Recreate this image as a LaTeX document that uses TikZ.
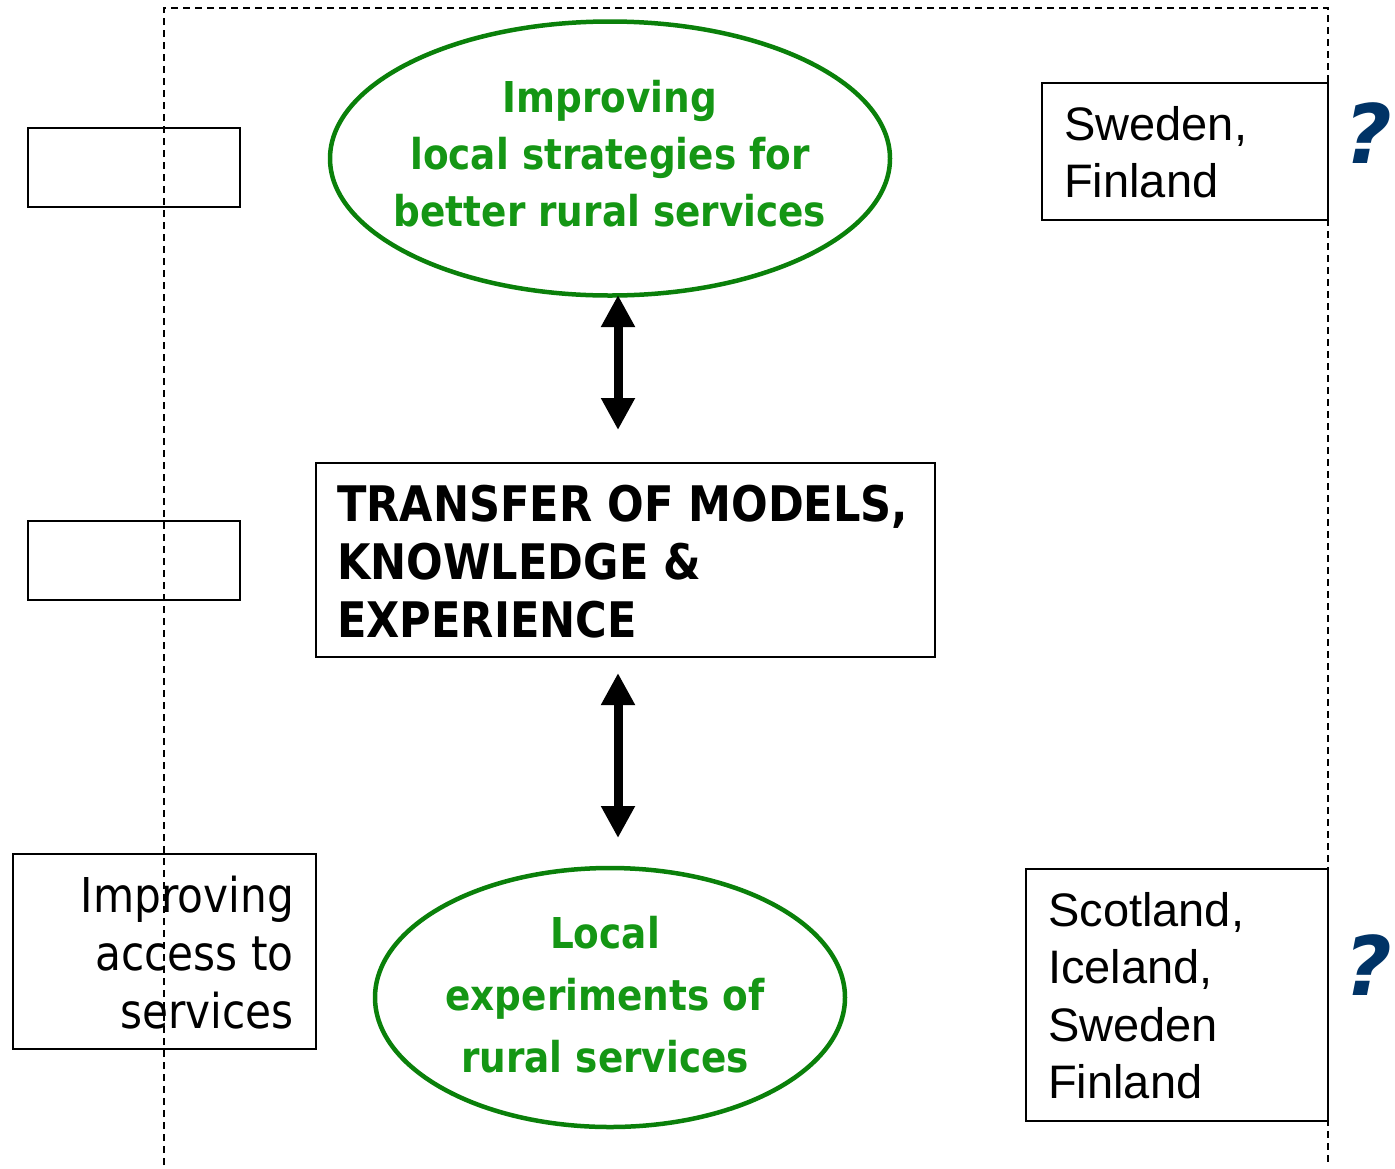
\documentclass[tikz,border=0pt]{standalone}
\usepackage{fontspec}
\setmainfont{Liberation Sans}
\newfontfamily\tah[FakeStretch=0.88]{DejaVu Sans}
\newfontfamily\qfont{DejaVu Sans}
\usetikzlibrary{arrows.meta,shapes.geometric}
\definecolor{egreen}{RGB}{10,128,10}
\definecolor{tgreen}{RGB}{20,150,20}
\definecolor{qblue}{RGB}{0,51,102}
\tikzset{
  plainbox/.style={draw=black, line width=2pt},
  oval/.style={draw=egreen, line width=4.5pt},
  dashline/.style={draw=black, line width=1.3pt, dash pattern=on 7pt off 5pt},
  dblarrow/.style={line width=9pt, {Triangle[width=32pt,length=32pt]}-{Triangle[width=32pt,length=32pt]}},
  greentext/.style={text=tgreen, font=\tah\bfseries\fontsize{42.5}{57}\selectfont, align=center},
  countrytext/.style={font=\fontsize{47}{57.5}\selectfont, align=left, anchor=north west, inner sep=0pt},
  qmark/.style={text=qblue, font=\qfont\bfseries\itshape\fontsize{82}{82}\selectfont}
}
\begin{document}
\begin{tikzpicture}[x=1pt,y=-1pt]
\useasboundingbox (0,0) rectangle (1395,1168);
% dashed frame
\coordinate (dl) at (164,1165);
\coordinate (dtl) at (164,8);
\coordinate (dtr) at (1328,8);
\coordinate (dr) at (1328,1165);
\draw[dashline] (dl) -- (dtl) -- (dtr) -- (dr);
% left empty boxes
\node[plainbox, minimum width=212pt, minimum height=79pt, inner sep=0pt] (lb1) at (134,167.5) {};
\node[plainbox, minimum width=212pt, minimum height=79pt, inner sep=0pt] (lb2) at (134,560.5) {};
% ellipses
\node[oval, ellipse, minimum width=560pt, minimum height=274pt, inner sep=0pt] (e1) at (610,158.5) {};
\node[oval, ellipse, minimum width=470pt, minimum height=259pt, inner sep=0pt] (e2) at (610,997.5) {};
\node[greentext] (t1) at (610,154) {Improving\\local strategies for\\better rural services};
\node[greentext, font=\tah\bfseries\fontsize{42.5}{62}\selectfont] (t2) at (605,995) {Local\\experiments of\\rural services};
% middle box
\node[plainbox, minimum width=619pt, minimum height=194pt, inner sep=0pt] (mb) at (625.5,560) {};
\node[font=\tah\bfseries\fontsize{49}{58}\selectfont, align=left, anchor=west, inner sep=0pt] (mt) at (337,562) {TRANSFER OF MODELS,\\KNOWLEDGE \&\\EXPERIENCE};
% left bottom box
\node[plainbox, minimum width=303pt, minimum height=195pt, inner sep=0pt] (lb3) at (164.5,951.5) {};
\node[font=\tah\fontsize{48}{58}\selectfont, align=right, anchor=east, inner sep=0pt] (lt) at (294,953) {Improving\\access to\\services};
% country boxes
\node[plainbox, minimum width=286pt, minimum height=137pt, inner sep=0pt] (cb1) at (1185,151.5) {};
\node[countrytext] (ct1) at (1064,106) {Sweden,\\Finland};
\node[plainbox, minimum width=302pt, minimum height=252pt, inner sep=0pt] (cb2) at (1177,995) {};
\node[countrytext] (ct2) at (1048,892) {Scotland,\\Iceland,\\Sweden\\Finland};
% question marks
\node[qmark] (q1) at (1368,133) {?};
\node[qmark] (q2) at (1368,965) {?};
% arrows
\coordinate (a1s) at (618,295);
\coordinate (a1e) at (618,430);
\coordinate (a2s) at (618,673);
\coordinate (a2e) at (618,838);
\draw[dblarrow] (a1s) -- (a1e);
\draw[dblarrow] (a2s) -- (a2e);
\end{tikzpicture}
\end{document}
